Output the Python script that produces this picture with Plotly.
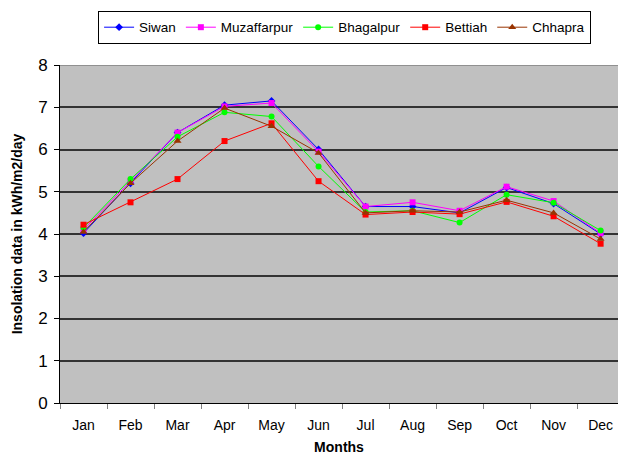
import plotly.graph_objects as go

months = ["Jan", "Feb", "Mar", "Apr", "May", "Jun", "Jul", "Aug", "Sep", "Oct", "Nov", "Dec"]
siwan = [4.02, 5.20, 6.40, 7.05, 7.15, 6.00, 4.65, 4.65, 4.50, 5.10, 4.72, 4.00]
muzaffarpur = [4.10, 5.25, 6.40, 7.02, 7.10, 5.95, 4.65, 4.75, 4.55, 5.12, 4.78, 4.02]
bhagalpur = [4.15, 5.30, 6.30, 6.88, 6.78, 5.60, 4.52, 4.55, 4.27, 4.93, 4.74, 4.08]
bettiah = [4.22, 4.75, 5.30, 6.20, 6.62, 5.25, 4.46, 4.52, 4.47, 4.76, 4.42, 3.77]
chhapra = [4.05, 5.20, 6.20, 6.98, 6.55, 5.92, 4.50, 4.55, 4.52, 4.80, 4.50, 3.88]

series = [
    ("Siwan", siwan, "#0000FF", "diamond", 6),
    ("Muzaffarpur", muzaffarpur, "#FF00FF", "square", 6),
    ("Bhagalpur", bhagalpur, "#00FF00", "circle", 6),
    ("Bettiah", bettiah, "#FF0000", "square", 6),
    ("Chhapra", chhapra, "#993300", "triangle-up", 7),
]

fig = go.Figure()
for name, vals, color, sym, sz in series:
    fig.add_trace(go.Scatter(
        x=months, y=vals, name=name, mode="lines+markers",
        line=dict(color=color, width=1),
        marker=dict(color=color, symbol=sym, size=sz, line=dict(width=0)),
    ))

font_fam = "Liberation Sans, Arial, sans-serif"
fig.update_layout(
    width=618, height=457,
    margin=dict(l=60, r=0, t=65, b=54, autoexpand=False),
    paper_bgcolor="white", plot_bgcolor="#C0C0C0",
    font=dict(family=font_fam, color="black", size=14),
    showlegend=True,
    legend=dict(
        orientation="h", x=0.51, xanchor="center", y=1.16, yanchor="top",
        bordercolor="black", borderwidth=1, bgcolor="white",
        font=dict(size=13.5), tracegroupgap=0,
    ),
    xaxis=dict(
        type="category", range=[-0.5, 11.37], tickson="boundaries",
        ticks="outside", ticklen=5, tickcolor="#808080",
        showline=True, linecolor="black", linewidth=1, automargin=False,
        showgrid=False, tickfont=dict(size=14), ticklabelstandoff=9,
        title=dict(text="<b>Months</b>", font=dict(size=14), standoff=10),
    ),
    yaxis=dict(
        range=[0, 8], tickvals=list(range(0, 9)), ticks="outside", ticklen=5,
        tickcolor="black", showline=True, linecolor="black", linewidth=1,
        showgrid=True, gridcolor="#333333", gridwidth=1.5, zeroline=False,
        automargin=False, tickfont=dict(size=17), ticklabelstandoff=3,
        title=dict(text="<b>Insolation data in kWh/m2/day</b>", font=dict(size=14), standoff=12),
    ),
    shapes=[dict(type="line", xref="paper", yref="y", x0=0, x1=1, y0=8, y1=8,
                 line=dict(color="#808080", width=1.5))],
)

fig.write_html("out.html", config={"displayModeBar": False},
               post_script="document.body.style.margin='0';")
